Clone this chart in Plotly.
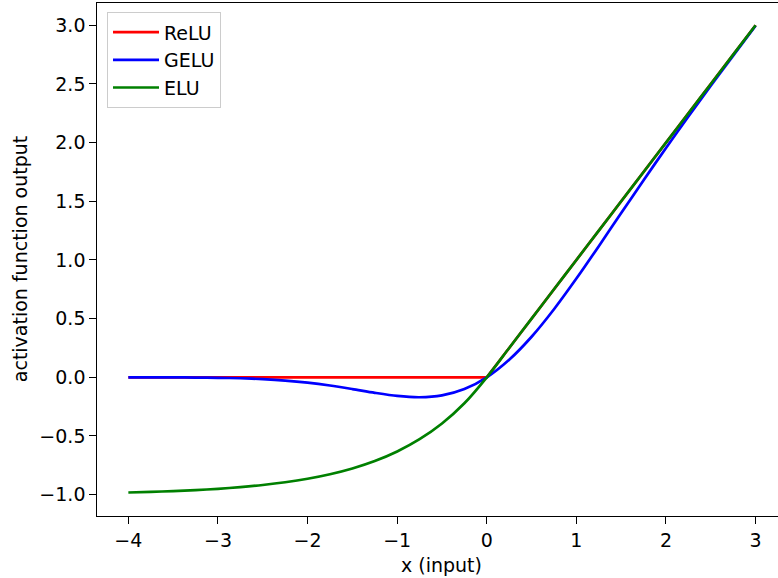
import plotly.graph_objects as go

x_vals = [-4.0, -3.75, -3.5, -3.25, -3.0, -2.75, -2.5, -2.25, -2.0, -1.75, -1.5, -1.25,
          -1.0, -0.75, -0.5, -0.25, 0.0, 0.25, 0.5, 0.75, 1.0, 1.25, 1.5, 1.75, 2.0,
          2.25, 2.5, 2.75, 3.0]

relu_vals = [0, 0, 0, 0, 0, 0, 0, 0, 0, 0, 0, 0,
             0, 0, 0, 0, 0, 0.25, 0.5, 0.75, 1.0, 1.25, 1.5, 1.75, 2.0,
             2.25, 2.5, 2.75, 3.0]

gelu_vals = [-0.0001, -0.0003, -0.0008, -0.0019, -0.0040, -0.0082, -0.0155, -0.0275,
             -0.0455, -0.0701, -0.1002, -0.1321, -0.1587, -0.1700, -0.1543, -0.1003,
             0.0, 0.1497, 0.3457, 0.5800, 0.8413, 1.1179, 1.3998, 1.6799, 1.9545,
             2.2225, 2.4845, 2.7418, 2.9960]

elu_vals = [-0.9817, -0.9765, -0.9698, -0.9612, -0.9502, -0.9361, -0.9179, -0.8946,
            -0.8647, -0.8262, -0.7769, -0.7135, -0.6321, -0.5276, -0.3935, -0.2212,
            0.0, 0.25, 0.5, 0.75, 1.0, 1.25, 1.5, 1.75, 2.0,
            2.25, 2.5, 2.75, 3.0]

x_ticks = [-4, -3, -2, -1, 0, 1, 2, 3]
y_ticks = [-1.0, -0.5, 0.0, 0.5, 1.0, 1.5, 2.0, 2.5, 3.0]

FONT = "DejaVu Sans"
FS = 19
LW = 2.7

fig = go.Figure()
fig.add_trace(go.Scatter(x=x_vals, y=relu_vals, mode="lines", name="ReLU",
                         line=dict(color="#ff0000", width=LW), legendgroup="a"))
fig.add_trace(go.Scatter(x=x_vals, y=gelu_vals, mode="lines", name="GELU",
                         line=dict(color="#0000ff", width=LW, shape="spline", smoothing=0.8),
                         legendgroup="b"))
fig.add_trace(go.Scatter(x=x_vals, y=elu_vals, mode="lines", name="ELU",
                         line=dict(color="#008000", width=LW, shape="spline", smoothing=0.8),
                         legendgroup="c"))

fig.update_layout(
    width=778, height=578,
    margin=dict(l=97, r=0, t=3, b=62),
    plot_bgcolor="white", paper_bgcolor="white",
    font=dict(family=FONT, size=FS, color="black"),
    showlegend=True,
    legend=dict(x=0.0147, y=0.982, xanchor="left", yanchor="top",
                bgcolor="rgba(255,255,255,0.8)", bordercolor="#cccccc", borderwidth=1,
                font=dict(family=FONT, size=FS), tracegroupgap=0,
                itemwidth=46),
    xaxis=dict(range=[-4.35, 3.25], tickvals=x_ticks, ticks="outside", ticklen=6.5,
               tickwidth=1.4, tickcolor="black", showline=True, linecolor="black",
               linewidth=1.4, mirror=True, showgrid=False, zeroline=False,
               tickfont=dict(family=FONT, size=FS)),
    yaxis=dict(range=[-1.182, 3.19], tickvals=y_ticks, tickformat=".1f",
               ticks="outside", ticklen=6.5, tickwidth=1.4, tickcolor="black",
               showline=True, linecolor="black", linewidth=1.4, mirror=False,
               showgrid=False, zeroline=False, tickfont=dict(family=FONT, size=FS)),
    annotations=[
        dict(text="x (input)", xref="paper", yref="paper", x=0.5066, y=-0.095,
             xanchor="center", yanchor="middle", showarrow=False,
             font=dict(family=FONT, size=FS)),
        dict(text="activation function output", xref="paper", yref="paper",
             x=-0.1135, y=0.5, xanchor="center", yanchor="middle", textangle=-90,
             showarrow=False, font=dict(family=FONT, size=FS)),
    ],
)

fig.write_html("out.html")
